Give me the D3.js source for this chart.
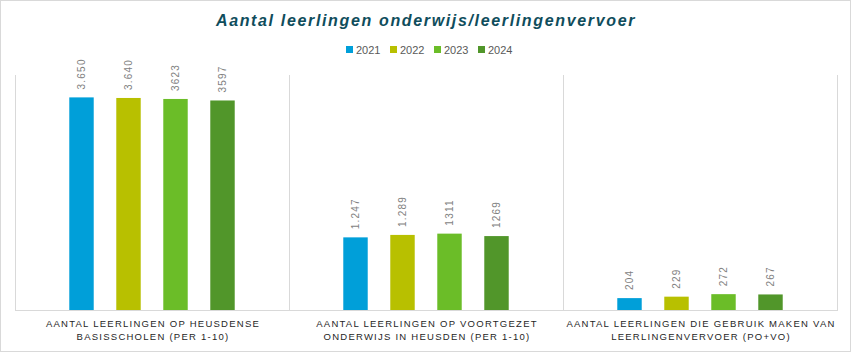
<!DOCTYPE html>
<html><head><meta charset="utf-8">
<script src="https://cdn.jsdelivr.net/npm/d3@7"></script>
<style>
html,body{margin:0;padding:0;background:#fff;}
svg{display:block;}
</style></head>
<body>
<svg id="chart" width="852" height="353"></svg>
<script>
const title = "Aantal leerlingen onderwijs/leerlingenvervoer";
const categories = [
  ["AANTAL LEERLINGEN OP HEUSDENSE", "BASISSCHOLEN (PER 1-10)"],
  ["AANTAL LEERLINGEN OP VOORTGEZET", "ONDERWIJS IN HEUSDEN (PER 1-10)"],
  ["AANTAL LEERLINGEN DIE GEBRUIK MAKEN VAN", "LEERLINGENVERVOER (PO+VO)"]
];
const years = ["2021", "2022", "2023", "2024"];
const colors = ["#009fd9", "#b8c000", "#6bbd28", "#51962a"];
const values = [
  [3650, 3640, 3623, 3597],
  [1247, 1289, 1311, 1269],
  [204, 229, 272, 267]
];
const valueLabels = [
  ["3.650", "3.640", "3623", "3597"],
  ["1.247", "1.289", "1311", "1269"],
  ["204", "229", "272", "267"]
];
const yDomain = [0, 4000];

const svg = d3.select("#chart");
const W = 852, H = 353;
const plot = {left: 15, right: 837, top: 75, bottom: 310};

// outer border
svg.append("rect").attr("x", 0.5).attr("y", 0.5).attr("width", W - 2).attr("height", H - 2)
  .attr("fill", "#fff").attr("stroke", "#d9d9d9").attr("stroke-width", 1);

const x0 = d3.scaleBand().domain(d3.range(categories.length))
  .range([plot.left, plot.right]).paddingInner(0).paddingOuter(0);
const x1 = d3.scaleBand().domain(years).range([0, 188]).paddingInner(0.48).paddingOuter(0.24);
const y = d3.scaleLinear().domain(yDomain).range([plot.bottom, 77]);

// separators / frame
const sepPos = d3.range(categories.length + 1).map(i => i < categories.length ? x0(i) : plot.right);
svg.append("g").selectAll("line").data(sepPos).join("line")
  .attr("x1", d => Math.round(d) + 0.5).attr("x2", d => Math.round(d) + 0.5)
  .attr("y1", plot.top).attr("y2", plot.bottom)
  .attr("stroke", "#d9d9d9").attr("stroke-width", 1);
svg.append("line").attr("x1", plot.left).attr("x2", plot.right + 1)
  .attr("y1", plot.bottom + 0.5).attr("y2", plot.bottom + 0.5)
  .attr("stroke", "#d9d9d9").attr("stroke-width", 1);

// bars
const groups = svg.append("g").selectAll("g.cat").data(values).join("g")
  .attr("class", "cat")
  .attr("transform", (d, i) => `translate(${x0(i) + (x0.bandwidth() - 188) / 2},0)`);

groups.selectAll("rect").data(d => d.map((v, j) => ({v, j}))).join("rect")
  .attr("x", d => x1(years[d.j]))
  .attr("width", x1.bandwidth())
  .attr("y", d => y(d.v))
  .attr("height", d => plot.bottom - y(d.v))
  .attr("fill", d => colors[d.j]);

groups.each(function(d, i) {
  d3.select(this).selectAll("text.val").data(d.map((v, j) => ({v, j, lab: valueLabels[i][j]}))).join("text")
    .attr("class", "val")
    .attr("transform", t => `translate(${x1(years[t.j]) + x1.bandwidth() / 2 + 3.5},${y(t.v) - 8}) rotate(-90)`)
    .attr("font-family", "Liberation Sans, Arial, sans-serif")
    .attr("font-size", 10)
    .attr("letter-spacing", 1.2)
    .attr("fill", "#7f7f7f")
    .text(t => t.lab);
});

// category labels
const catG = svg.append("g").selectAll("text").data(categories).join("text")
  .attr("text-anchor", "middle")
  .attr("font-family", "Liberation Sans, Arial, sans-serif")
  .attr("font-size", 9.5)
  .attr("letter-spacing", 1.25)
  .attr("fill", "#262626");
catG.each(function(lines, i) {
  d3.select(this).selectAll("tspan").data(lines).join("tspan")
    .attr("x", x0(i) + x0.bandwidth() / 2 + 1)
    .attr("y", (l, k) => 327 + k * 12.5)
    .text(l => l);
});

// title
svg.append("text").attr("x", 426).attr("y", 26).attr("text-anchor", "middle")
  .attr("font-family", "Liberation Sans, Arial, sans-serif")
  .attr("font-size", 16).attr("font-weight", "bold").attr("font-style", "italic")
  .attr("letter-spacing", 1.65)
  .attr("fill", "#0f4d5c")
  .text(title);

// legend
const legStep = 44;
const legStart = 346;
const leg = svg.append("g").selectAll("g").data(years).join("g")
  .attr("transform", (d, i) => `translate(${legStart + i * legStep},0)`);
leg.append("rect").attr("x", 0).attr("y", 46).attr("width", 7).attr("height", 7)
  .attr("fill", (d, i) => colors[i]);
leg.append("text").attr("x", 10).attr("y", 54)
  .attr("font-family", "Liberation Sans, Arial, sans-serif")
  .attr("font-size", 11).attr("fill", "#595959")
  .text(d => d);
</script>
</body></html>
